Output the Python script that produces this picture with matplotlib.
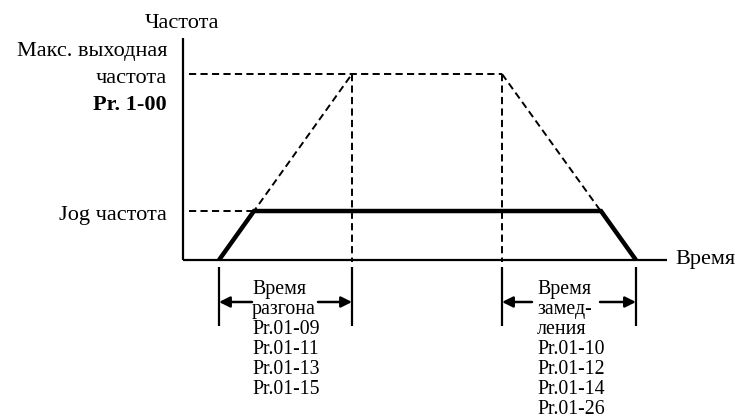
import matplotlib
matplotlib.use("Agg")
import matplotlib.pyplot as plt

# ---- data (time in s, frequency in Hz) ----
max_freq = 60.0
jog_freq = 15.8
accel_ramp_t = [0.0, 10.0]
accel_ramp_f = [0.0, 60.0]
decel_ramp_t = [21.28, 31.35]
decel_ramp_f = [60.0, 0.0]
jog_profile_t = [0.0, 2.63, 28.72, 31.35]
jog_profile_f = [0.0, 15.8, 15.8, 0.0]

y_axis_label = "Частота"
x_axis_label = "Время"
max_label = ["Макс. выходная", "частота"]
max_param = "Pr. 1-00"
jog_label = "Jog частота"
accel_text = ["Время", "разгона", "Pr.01-09", "Pr.01-11", "Pr.01-13", "Pr.01-15"]
decel_text = ["Время", "замед-", "ления", "Pr.01-10", "Pr.01-12", "Pr.01-14", "Pr.01-26"]

# ---- layout ----
W, H = 738, 416
fig = plt.figure(figsize=(W / 100, H / 100), dpi=100)
ax = fig.add_axes([0, 0, 1, 1])
ax.set_axis_off()

X0, Y0 = 219.0, 260.0        # pixel of t=0, f=0
SX = (352.0 - 219.0) / 10.0  # px per s
SY = 186.0 / 60.0            # px per Hz
ax.set_xlim(-X0 / SX, (W - X0) / SX)
ax.set_ylim((Y0 - H) / SY, Y0 / SY)


def px(x, y):
    return (x - X0) / SX, (Y0 - y) / SY


FONT = "Liberation Serif"
FS_SIDE = 16
FS_BLOCK = 14.3
k = "black"
dash = dict(color=k, lw=1.4, dashes=(3.7, 2.2))

# axes lines
ax_t, _ = px(183, 0)
_, top_f = px(0, 38)
end_t, _ = px(667, 0)
ax.plot([ax_t, ax_t], [top_f, 0], color=k, lw=1.6, solid_capstyle="butt")
ax.plot([ax_t, end_t], [0, 0], color=k, lw=1.6, solid_capstyle="butt")

# dashed guide lines
start_t, _ = px(189, 0)
ax.plot([start_t, decel_ramp_t[0]], [max_freq, max_freq], **dash)
ax.plot([start_t, jog_profile_t[1]], [jog_freq, jog_freq], **dash)
ax.plot(accel_ramp_t, accel_ramp_f, **dash)
ax.plot(decel_ramp_t, decel_ramp_f, **dash)
_, low_f = px(0, 262)
ax.plot([accel_ramp_t[1]] * 2, [max_freq, low_f], **dash)
ax.plot([decel_ramp_t[0]] * 2, [max_freq, low_f], **dash)

# thick jog profile
ax.plot(jog_profile_t, jog_profile_f, color=k, lw=3.2,
        solid_joinstyle="miter", solid_capstyle="butt")

# dimension bars
_, bar_top = px(0, 267)
_, bar_bot = px(0, 326)
for t in [accel_ramp_t[0], accel_ramp_t[1], decel_ramp_t[0], decel_ramp_t[1]]:
    ax.plot([t, t], [bar_top, bar_bot], color=k, lw=1.6, solid_capstyle="butt")

_, arr_f = px(0, 302)
aprops = dict(arrowstyle="-|>", lw=1.8, color=k, mutation_scale=16,
              shrinkA=0, shrinkB=0)
for tail_px, head_t in [(252, accel_ramp_t[0]), (318, accel_ramp_t[1]),
                        (532, decel_ramp_t[0]), (600, decel_ramp_t[1])]:
    tt, _ = px(tail_px, 0)
    ax.annotate("", xy=(head_t, arr_f), xytext=(tt, arr_f), arrowprops=aprops)

# texts
ts = dict(family=FONT, fontsize=FS_SIDE, color=k)
tb = dict(family=FONT, fontsize=FS_BLOCK, color=k)
ax.text(*px(182, 28), y_axis_label, ha="center", va="baseline", **ts)
ax.text(*px(167, 56), max_label[0], ha="right", va="baseline", **ts)
ax.text(*px(167, 83), max_label[1], ha="right", va="baseline", **ts)
ax.text(*px(167, 110), max_param, ha="right", va="baseline",
        fontweight="bold", **ts)
ax.text(*px(167, 220), jog_label, ha="right", va="baseline", **ts)
ax.text(*px(675, 264), x_axis_label, ha="left", va="baseline", **ts)

for i, s in enumerate(accel_text):
    ax.text(*px(252, 294 + 20 * i), s, ha="left", va="baseline", **tb)
for i, s in enumerate(decel_text):
    ax.text(*px(537, 294 + 20 * i), s, ha="left", va="baseline", **tb)

fig.savefig("out.png", dpi=100)
